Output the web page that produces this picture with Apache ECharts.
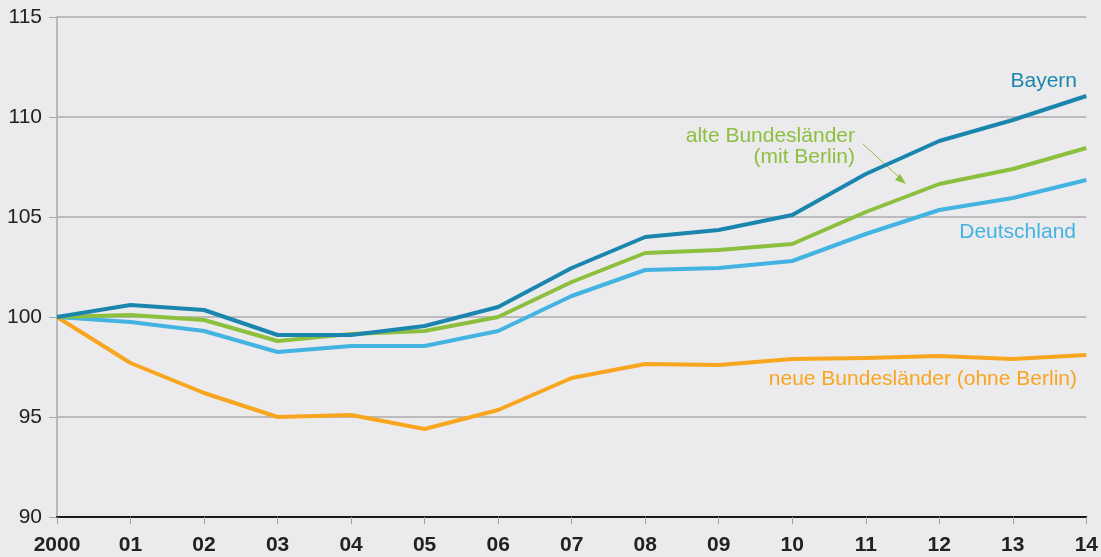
<!DOCTYPE html>
<html><head><meta charset="utf-8">
<script src="https://cdn.jsdelivr.net/npm/echarts@6/dist/echarts.min.js"></script>
<style>html,body{margin:0;padding:0;background:#ebebed;}#c{width:1101px;height:557px;}</style>
</head><body><div id="c"></div>
<script>
const categories = ['2000','01','02','03','04','05','06','07','08','09','10','11','12','13','14'];
const bayern      = [100,100.6,100.35,99.1,99.1,99.55,100.5,102.45,104.0,104.35,105.1,107.15,108.8,109.85,111.05];
const alteBL      = [100,100.1,99.85,98.8,99.15,99.3,100.0,101.75,103.2,103.35,103.65,105.25,106.65,107.4,108.45];
const deutschland = [100,99.75,99.3,98.25,98.55,98.55,99.3,101.05,102.35,102.45,102.8,104.15,105.35,105.95,106.85];
const neueBL      = [100,97.7,96.2,95.0,95.1,94.4,95.35,96.95,97.65,97.6,97.9,97.95,98.05,97.9,98.1];
const yTicks = [90,95,100,105,110,115];

const C = {bay:'#1b86ad', alt:'#8dbf3e', de:'#43b4e1', neu:'#f8a620'};
const font = '"Liberation Sans", Arial, sans-serif';
const chart = echarts.init(document.getElementById('c'), null, {renderer:'canvas'});
function s(name, data, color, z){
  return {name, type:'line', data, symbol:'none', smooth:false, z,
    lineStyle:{color, width:4, join:'round'}, itemStyle:{color}};
}
function label(text, x, y, color){
  return {type:'text', x, y, style:{text, fill:color, font:'21px '+font, align:'right', verticalAlign:'middle'}};
}
chart.setOption({
  backgroundColor:'#ebebed',
  animation:false,
  grid:{left:57, right:14, top:17, bottom:40, containLabel:false},
  xAxis:{type:'category', data:categories, boundaryGap:false,
    axisLine:{show:true, lineStyle:{color:'#1a1a1a', width:2}},
    axisTick:{show:true, alignWithLabel:true, length:7, lineStyle:{color:'#a0a0a0'}},
    axisLabel:{color:'#222', fontFamily:font, fontWeight:'bold', fontSize:21, margin:18},
    splitLine:{show:false}, z:10},
  yAxis:{type:'value', min:90, max:115, interval:5,
    axisLine:{show:true, lineStyle:{color:'#a8a8a8', width:1.5}},
    axisTick:{show:true, length:8, lineStyle:{color:'#a8a8a8'}},
    axisLabel:{color:'#222', fontFamily:font, fontSize:21, margin:15,
      formatter:v=> yTicks.includes(v) ? String(v) : ''},
    splitLine:{show:true, lineStyle:{color:'#ababab', width:1.5}}},
  series:[
    s('neue Bundesländer (ohne Berlin)', neueBL, C.neu, 2),
    s('Deutschland', deutschland, C.de, 3),
    s('alte Bundesländer (mit Berlin)', alteBL, C.alt, 4),
    s('Bayern', bayern, C.bay, 5)
  ],
  graphic:[
    label('Bayern', 1077, 81, C.bay),
    label('alte Bundesländer', 855, 136, C.alt),
    label('(mit Berlin)', 855, 157, C.alt),
    {type:'line', shape:{x1:863,y1:144,x2:901,y2:179}, style:{stroke:C.alt, lineWidth:1}},
    {type:'polygon', shape:{points:[[906,184],[895,180],[900,174]]}, style:{fill:C.alt}},
    label('Deutschland', 1076, 232, C.de),
    label('neue Bundesländer (ohne Berlin)', 1077, 379, C.neu)
  ]
});
</script></body></html>
